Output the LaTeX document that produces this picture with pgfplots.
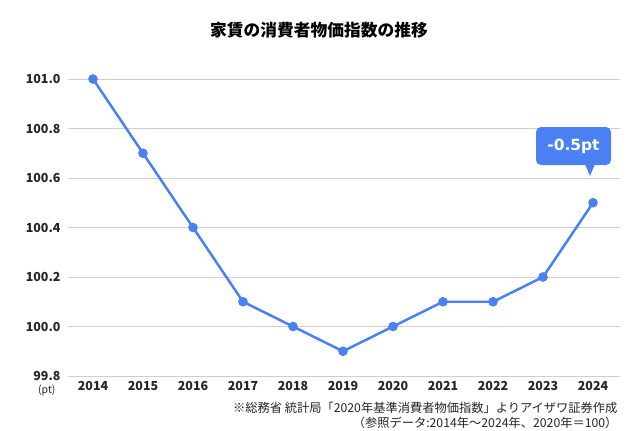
\documentclass[border=0pt]{standalone}
\usepackage{pgfplots}
\pgfplotsset{compat=1.18}
\usepackage{fontspec}
\setmainfont{Noto Sans CJK JP}
\newfontfamily\dejavu{DejaVu Sans}
\definecolor{lineblue}{HTML}{4A80F2}
\definecolor{gridgray}{HTML}{CFCFCF}
\begin{document}
\begin{tikzpicture}[x=1bp,y=1bp]
\useasboundingbox (0,0) rectangle (640,430);
\fill[white] (0,0) rectangle (640,430);
\node[font=\bfseries\fontsize{16.8}{19}\selectfont] at (319,400) {家賃の消費者物価指数の推移};
\begin{axis}[
  at={(68bp,54bp)}, anchor=south west,
  scale only axis, width=552bp, height=297bp,
  xmin=-0.5, xmax=10.54, ymin=99.8, ymax=101.0,
  axis line style={draw=none},
  major tick style={draw=none},
  ymajorgrids, grid style={gridgray, line width=0.8pt},
  ytick={99.8,100.0,100.2,100.4,100.6,100.8,101.0},
  xtick={0,...,10},
  xticklabels={2014,2015,2016,2017,2018,2019,2020,2021,2022,2023,2024},
  /pgf/number format/assume math mode=true,
  yticklabel style={/pgf/number format/.cd, fixed, fixed zerofill, precision=1, /tikz/.cd, font=\fontsize{12.5}{14}\selectfont\bfseries, text=black!85, xshift=-4bp},
  xticklabel style={font=\fontsize{12.5}{14}\selectfont\bfseries, text=black!85, yshift=-2bp},
  clip=false,
]
\addplot[lineblue, line width=2.5pt, mark=*, mark size=3.5pt, mark options={fill=lineblue, draw=lineblue}]
coordinates {(0,101.0) (1,100.7) (2,100.4) (3,100.1) (4,100.0) (5,99.9) (6,100.0) (7,100.1) (8,100.1) (9,100.2) (10,100.5)};
\end{axis}
\node[anchor=east, font=\fontsize{10.5}{12}\selectfont, text=black!85] at (59,40) {(pt)};
% callout
\fill[lineblue, rounded corners=5bp] (536,265) rectangle (611,303);
\fill[lineblue] (585,266) -- (590,254) -- (595,266) -- cycle;
\node[font=\dejavu\bfseries\fontsize{15.5}{18}\selectfont, text=white] at (573.5,284) {-0.5pt};
\node[anchor=east, font=\fontsize{12.3}{14}\selectfont, text=black!85] at (621,22) {※総務省 統計局「2020年基準消費者物価指数」よりアイザワ証券作成};
\node[anchor=east, font=\fontsize{12.3}{14}\selectfont, text=black!85] at (621,7) {（参照データ:2014年〜2024年、2020年＝100）};
\end{tikzpicture}
\end{document}
